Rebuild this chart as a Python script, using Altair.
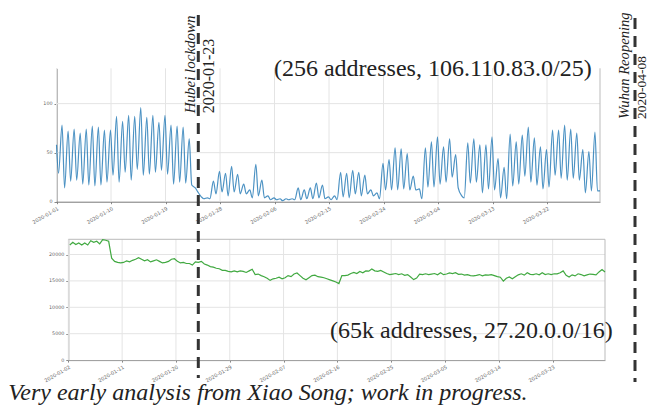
import altair as alt
import pandas as pd

# ---------------- data ----------------
top_ticks = ["2020-01-01", "2020-01-10", "2020-01-19", "2020-01-28", "2020-02-06",
             "2020-02-15", "2020-02-24", "2020-03-04", "2020-03-13", "2020-03-22"]
bot_ticks = ["2020-01-02", "2020-01-11", "2020-01-20", "2020-01-29", "2020-02-07",
             "2020-02-16", "2020-02-25", "2020-03-05", "2020-03-14", "2020-03-23"]
top_y_ticks = [0, 50, 100]
bot_y_ticks = [0, 5000, 10000, 15000, 20000]

# 256-address block: daily trough (morning) and daily peak (evening), from 2020-01-01
top_low = [29, 14, 21, 22, 18, 17, 16, 17, 20, 27,
           20, 30, 22, 33, 27, 28, 30, 32, 28, 18,
           20, 19, 17, 10, 3, 3, 8, 10, 6, 10,
           8, 8, 4, 6, 4, 2, 2, 1, 2, 2,
           2, 3, 3, 4, 3, 2, 2, 5, 4, 8,
           6, 8, 6, 3, 12, 12, 12, 13, 12, 12,
           3, 15, 15, 18, 20, 25, 14, 4, 19, 20,
           9, 13, 12, 4, 3, 16, 18, 26, 20, 17,
           13, 15, 27, 24, 22, 24, 22, 9, 11, 11]
top_high = [78, 72, 74, 70, 74, 77, 76, 73, 73, 87,
            82, 88, 87, 96, 86, 88, 81, 88, 78, 77,
            76, 64, 14, 5, 4, 21, 31, 29, 36, 28,
            18, 12, 38, 22, 6, 4, 3, 3, 3, 14,
            12, 14, 19, 17, 5, 6, 30, 29, 32, 30,
            27, 12, 9, 39, 43, 55, 54, 49, 26, 13,
            55, 61, 66, 56, 64, 48, 6, 60, 64, 58,
            58, 66, 44, 35, 69, 61, 68, 76, 65, 56,
            53, 73, 73, 78, 74, 70, 53, 51, 71]
top_edges = [58, 11]

# 65k-address block: two readings per day, from 2020-01-02
bot_am = [21800, 21900, 21800, 21800, 22300, 22000, 22700, 19300, 18500, 18500,
          18600, 19100, 19100, 19000, 18800, 18700, 18500, 19100, 18700, 18500,
          18300, 18600, 18700, 18000, 17600, 17300, 17000, 16700, 16700, 16800,
          16900, 16200, 16000, 15500, 15400, 15700, 15600, 15800, 16500, 15500,
          15600, 16100, 15700, 15400, 15000, 14500, 16000, 16400, 16400, 16550,
          16850, 16900, 17000, 16400, 16300, 16200, 16050, 15750, 15550, 16200,
          16200, 16400, 16550, 16300, 16400, 16250, 16100, 16000, 16050, 15950,
          16100, 16000, 15700, 15500, 15400, 16150, 16100, 16250, 16350, 16550,
          16350, 16350, 16550, 16050, 16150, 16350, 15950, 16300, 16150, 17150]
bot_pm = [22300, 22200, 22200, 22600, 22500, 22800, 22500, 18700, 18400, 18800,
          18900, 19400, 18800, 18600, 19000, 18400, 18700, 19200, 18400, 18300,
          18000, 18500, 18200, 17700, 17400, 17000, 16800, 16900, 16900, 16600,
          17200, 16300, 15800, 15100, 15500, 15400, 16000, 16300, 16000, 15200,
          16000, 15800, 15600, 15200, 14800, 16000, 16100, 16600, 16800, 16900,
          17250, 16800, 16700, 16200, 16400, 16350, 16200, 15250, 16300, 16350,
          16300, 16150, 16180, 16500, 16550, 16300, 16200, 15950, 16200, 16150,
          16200, 15800, 14950, 15750, 15800, 16350, 16550, 16200, 16150, 16200,
          16200, 16350, 16900, 15750, 15950, 16200, 16150, 16250, 16700, 16700]

top_t0 = pd.Timestamp("2020-01-01 00:00")
top_t1 = pd.Timestamp("2020-03-30 18:00")
bot_t0 = pd.Timestamp("2020-01-02 00:00")
bot_t1 = pd.Timestamp("2020-03-31 18:00")
top_ymax = 136
bot_ymax = 22880

title_top = "(256 addresses, 106.110.83.0/25)"
title_bot = "(65k addresses, 27.20.0.0/16)"
caption = "Very early analysis from Xiao Song; work in progress."
ev1_name, ev1_date = "Hubei lockdown", "2020-01-23"
ev2_name, ev2_date = "Wuhan Reopening", "2020-04-08"

# ---------------- tables ----------------
rows = [(top_t0, top_edges[0])]
for d, v in enumerate(top_low):
    rows.append((top_t0 + pd.Timedelta(days=d, hours=8), v))
    if d < len(top_high):
        rows.append((top_t0 + pd.Timedelta(days=d, hours=22), top_high[d]))
rows.append((top_t1, top_edges[1]))
top_df = pd.DataFrame(rows, columns=["t", "v"])

rows = []
for d in range(len(bot_am)):
    rows.append((bot_t0 + pd.Timedelta(days=d, hours=6), bot_am[d]))
    rows.append((bot_t0 + pd.Timedelta(days=d, hours=18), bot_pm[d]))
bot_df = pd.DataFrame(rows, columns=["t", "v"])


def dt(ts):
    ts = pd.Timestamp(ts)
    return alt.DateTime(year=ts.year, month=ts.month, date=ts.day, hours=ts.hour)


W, H = 641, 399
GRID = "#e4e4e4"
SERIF = "Liberation Serif, Times New Roman, Times, serif"

common = dict(labelFont="DejaVu Sans", labelColor="#666666", tickColor="#888888",
              grid=False, title=None, labelFlush=False, labelOverlap=False)


def panel(df, t0, t1, ymax, xticks, yticks, xr, yr, spine_col, box_top, line_col,
          opacity, interp):
    xs = alt.Scale(domain=[dt(t0), dt(t1)], range=xr)
    ys = alt.Scale(domain=[0, ymax], range=yr, nice=False, zero=False)
    xa = alt.Axis(orient="bottom", offset=yr[0] - H, values=[dt(s) for s in xticks],
                  format="%Y-%m-%d", labelAngle=330, labelAlign="right",
                  labelBaseline="top", labelFontSize=5, labelPadding=2, tickSize=2,
                  domainColor=spine_col, **common)
    ya = alt.Axis(orient="left", offset=-xr[0], values=yticks, format="d",
                  labelFontSize=4.8, labelPadding=2, tickSize=2.5,
                  domainColor=spine_col, **common)

    def X(f):
        return alt.X(f, type="temporal", scale=xs, axis=xa)

    def Y(f):
        return alt.Y(f, type="quantitative", scale=ys, axis=ya)

    vg = pd.DataFrame({"t": [pd.Timestamp(s) for s in xticks], "y1": 0, "y2": ymax})
    hg = pd.DataFrame({"v": [v for v in yticks if v > 0], "t1": t0, "t2": t1})
    layers = [
        alt.Chart(vg).mark_rule(color=GRID, strokeWidth=1).encode(
            x=X("t"), y=Y("y1"), y2="y2:Q"),
        alt.Chart(hg).mark_rule(color=GRID, strokeWidth=1).encode(
            x=X("t1"), x2="t2:T", y=Y("v")),
        alt.Chart(pd.DataFrame({"t": [t1], "y1": [0], "y2": [ymax]})).mark_rule(
            color="#bbbbbb", strokeWidth=1).encode(x=X("t"), y=Y("y1"), y2="y2:Q"),
    ]
    if box_top:
        layers.append(
            alt.Chart(pd.DataFrame({"t1": [t0], "t2": [t1], "v": [ymax]})).mark_rule(
                color="#bbbbbb", strokeWidth=1).encode(x=X("t1"), x2="t2:T", y=Y("v")))
    layers.append(
        alt.Chart(df).mark_line(color=line_col, strokeWidth=1.2, opacity=opacity,
                                interpolate=interp).encode(x=X("t"), y=Y("v")))
    return alt.layer(*layers)


top_panel = panel(top_df, top_t0, top_t1, top_ymax, top_ticks, top_y_ticks,
                  [48.5, 592], [193.7, 60.3], "#777777", False, "#1f77b4", 0.8,
                  "monotone")
bot_panel = panel(bot_df, bot_t0, bot_t1, bot_ymax, bot_ticks, bot_y_ticks,
                  [60.3, 597], [352.1, 231.3], "#999999", True, "#2ca02c", 0.9,
                  "linear")

one = pd.DataFrame({"a": [0]})


def note(text, x, y, size, italic=False, angle=0, align="left"):
    kw = dict(text=text, font=SERIF, fontSize=size, align=align,
              baseline="alphabetic", color="#222222")
    if italic:
        kw["fontStyle"] = "italic"
    if angle:
        kw["angle"] = angle
    return alt.Chart(one).mark_text(**kw).encode(x=alt.value(x), y=alt.value(y))


def vline(x, y1, y2):
    return alt.Chart(one).mark_rule(color="#333333", strokeWidth=3,
                                    strokeDash=[11, 7]).encode(
        x=alt.value(x), y=alt.value(y1), y2=alt.value(y2))


notes = [
    vline(190.3, 7, 370),
    vline(627, 10, 374),
    note(ev1_name, 187, 105.3, 15, italic=True, angle=270),
    note(ev1_date, 206, 105.3, 16, angle=270),
    note(ev2_name, 621, 111, 14.6, italic=True, angle=270),
    note(ev2_date, 638, 111, 13.5, angle=270),
    note(title_top, 583.7, 67.7, 24, align="right"),
    note(title_bot, 604.7, 330.3, 24, align="right"),
    note(caption, 0.3, 392, 24, italic=True),
]

chart = alt.layer(top_panel, bot_panel, *notes).resolve_scale(
    x="independent", y="independent"
).properties(
    width=W, height=H, autosize=alt.AutoSizeParams(type="none"), padding=0,
    background="white"
).configure_view(stroke="transparent")

chart.save("out.html", embed_options={"renderer": "svg", "actions": False})
